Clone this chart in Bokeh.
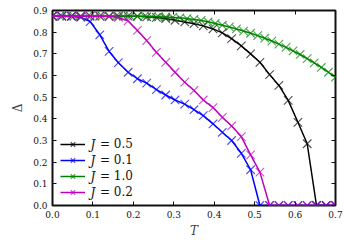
from bokeh.plotting import figure
from bokeh.models import Range1d, FixedTicker, LinearAxis, Legend, LegendItem, Label
from bokeh.embed import file_html
from bokeh.resources import INLINE

# temperature grid shared by J = 0.5, 0.1, 0.2
T_grid = [0.000, 0.023, 0.047, 0.070, 0.093, 0.117, 0.140, 0.163, 0.187, 0.210,
          0.233, 0.257, 0.280, 0.303, 0.327, 0.350, 0.373, 0.397, 0.420, 0.443,
          0.467, 0.490, 0.513, 0.537, 0.560, 0.583, 0.607, 0.630, 0.653, 0.677, 0.700]

delta_J05 = [0.874, 0.874, 0.874, 0.874, 0.874, 0.874, 0.874, 0.874, 0.874, 0.873,
             0.871, 0.868, 0.863, 0.855, 0.847, 0.839, 0.829, 0.815, 0.797, 0.770,
             0.737, 0.700, 0.661, 0.604, 0.554, 0.485, 0.384, 0.285, 0.0, 0.0, 0.0]

delta_J01 = [0.874, 0.874, 0.873, 0.868, 0.849, 0.788, 0.711, 0.659, 0.615, 0.585,
             0.565, 0.535, 0.510, 0.487, 0.468, 0.442, 0.415, 0.377, 0.338, 0.300,
             0.241, 0.165, 0.0, 0.0, 0.0, 0.0, 0.0, 0.0, 0.0, 0.0, 0.0]

delta_J02 = [0.874, 0.874, 0.874, 0.874, 0.874, 0.874, 0.872, 0.868, 0.852, 0.808,
             0.761, 0.707, 0.661, 0.615, 0.569, 0.531, 0.487, 0.452, 0.407, 0.367,
             0.318, 0.234, 0.154, 0.0, 0.0, 0.0, 0.0, 0.0, 0.0, 0.0, 0.0]

# finer grid for J = 1.0
T_fine = [0.0, 0.0175, 0.035, 0.0525, 0.07, 0.0875, 0.105, 0.1225, 0.14, 0.1575,
          0.175, 0.1925, 0.21, 0.2275, 0.245, 0.2625, 0.28, 0.2975, 0.315, 0.3325,
          0.35, 0.3675, 0.385, 0.4025, 0.42, 0.4375, 0.455, 0.4725, 0.49, 0.5075,
          0.525, 0.5425, 0.56, 0.5775, 0.595, 0.6125, 0.63, 0.6475, 0.665, 0.6825, 0.7]

delta_J10 = [0.874, 0.874, 0.874, 0.874, 0.874, 0.874, 0.874, 0.874, 0.874, 0.874,
             0.874, 0.874, 0.874, 0.873, 0.872, 0.871, 0.870, 0.868, 0.866, 0.863,
             0.859, 0.854, 0.848, 0.840, 0.832, 0.824, 0.815, 0.805, 0.795, 0.784,
             0.772, 0.759, 0.745, 0.730, 0.714, 0.697, 0.678, 0.658, 0.637, 0.615, 0.592]

x_ticks = [0.0, 0.1, 0.2, 0.3, 0.4, 0.5, 0.6, 0.7]
x_tick_labels = ["0.0", "0.1", "0.2", "0.3", "0.4", "0.5", "0.6", "0.7"]
y_ticks = [0.0, 0.1, 0.2, 0.3, 0.4, 0.5, 0.6, 0.7, 0.8, 0.9]
y_tick_labels = ["0.0", "0.1", "0.2", "0.3", "0.4", "0.5", "0.6", "0.7", "0.8", "0.9"]

series_labels = ["0.5", "0.1", "1.0", "0.2"]
series_x = [T_grid, T_grid, T_fine, T_grid]
series_y = [delta_J05, delta_J01, delta_J10, delta_J02]
colors = ["#000000", "#0000ff", "#008000", "#bf00bf"]

SERIF = "DejaVu Serif"

p = figure(width=350, height=250, x_range=Range1d(0, 0.7), y_range=Range1d(0, 0.9),
           output_backend="svg", toolbar_location=None,
           min_border_left=52, min_border_right=15, min_border_top=10, min_border_bottom=45)
p.xgrid.visible = False
p.ygrid.visible = False
p.outline_line_color = "#111111"
p.outline_line_width = 2
p.background_fill_color = "white"
p.border_fill_color = "white"

def style_axis(ax, ticks, labels, show_labels):
    ax.ticker = FixedTicker(ticks=ticks)
    ax.major_label_overrides = {t: l for t, l in zip(ticks, labels)}
    ax.major_tick_in = 4
    ax.major_tick_out = 0
    ax.minor_tick_line_color = None
    ax.axis_line_color = None
    ax.major_tick_line_color = "#111111"
    ax.major_tick_line_width = 1
    ax.major_label_text_font = SERIF
    ax.major_label_text_color = "#111111"
    if show_labels:
        ax.major_label_text_font_size = "9px"
    else:
        ax.major_label_text_font_size = "0px"
        ax.major_label_standoff = 0

style_axis(p.xaxis[0], x_ticks, x_tick_labels, True)
style_axis(p.yaxis[0], y_ticks, y_tick_labels, True)
p.xaxis[0].major_label_standoff = 5
p.yaxis[0].major_label_standoff = 5
p.xaxis[0].axis_label = "T"
p.xaxis[0].axis_label_text_font = SERIF
p.xaxis[0].axis_label_text_font_style = "italic"
p.xaxis[0].axis_label_text_font_size = "12px"
p.xaxis[0].axis_label_standoff = 3
p.yaxis[0].axis_label = "Δ"
p.yaxis[0].axis_label_text_font = SERIF
p.yaxis[0].axis_label_text_font_style = "normal"
p.yaxis[0].axis_label_text_font_size = "12px"
p.yaxis[0].axis_label_standoff = 5

top = LinearAxis()
right = LinearAxis()
style_axis(top, x_ticks, [""] * len(x_ticks), False)
style_axis(right, y_ticks, [""] * len(y_ticks), False)
p.add_layout(top, "above")
p.add_layout(right, "right")

items = []
for xs, ys, c, lab in zip(series_x, series_y, colors, series_labels):
    lr = p.line(xs, ys, line_color=c, line_width=1.5)
    sr = p.scatter(xs, ys, marker="x", size=12, line_color=c, line_width=1.1, line_alpha=0.7)
    items.append(LegendItem(label="= " + lab, renderers=[lr, sr]))

legend = Legend(items=items, location=(8, 5), orientation="vertical",
                border_line_color=None, background_fill_alpha=0,
                padding=0, margin=0, spacing=0,
                glyph_width=25, glyph_height=16, label_height=16,
                label_standoff=15, label_text_font=SERIF, label_text_font_size="12px",
                label_text_color="#111111")
p.add_layout(legend)

row_y = [61, 45, 29, 13]
for yy in row_y:
    p.add_layout(Label(x=38, y=yy, x_units="screen", y_units="screen", text="J",
                       text_font=SERIF, text_font_style="italic", text_font_size="12px",
                       text_baseline="middle", text_color="#111111"))

open("out.html", "w").write(file_html(p, INLINE))
